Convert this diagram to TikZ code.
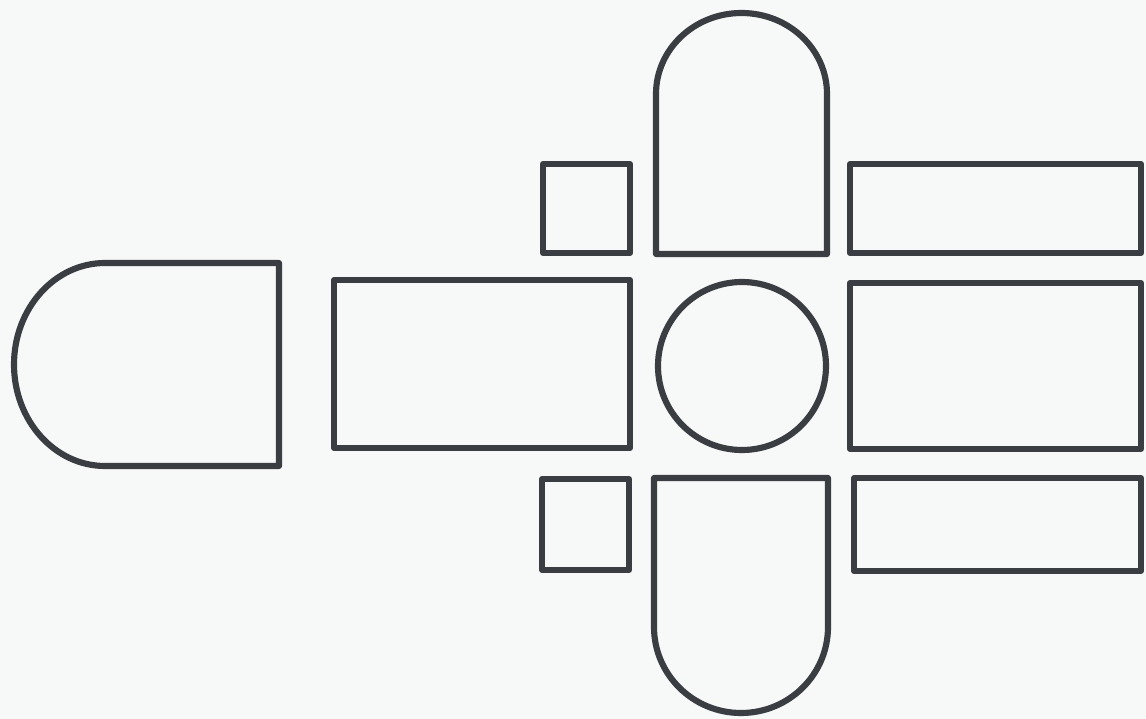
\documentclass[tikz,border=0pt]{standalone}
\definecolor{ink}{RGB}{58,62,66}
\definecolor{paper}{RGB}{247,248,248}
\begin{document}
\begin{tikzpicture}[x=0.02cm,y=-0.02cm,
  outline/.style={draw=ink,line width=3.5pt,line join=round}]
\fill[paper] (0,0) rectangle (1146,719);
\useasboundingbox (0,0) rectangle (1146,719);
% left D shape
\draw[outline] (279,263) -- (279,466) -- (105,466)
  arc[start angle=90,end angle=270,x radius=91,y radius=101.5] -- cycle;
% middle left rectangle
\draw[outline] (334,280) rectangle (630,448);
% small squares
\draw[outline] (543,164) rectangle (630,253);
\draw[outline] (542,479) rectangle (629,570);
% top arch
\draw[outline] (656,254) -- (656,94)
  arc[start angle=180,end angle=360,x radius=85.5,y radius=81] -- (827,254) -- cycle;
% bottom arch
\draw[outline] (654,478) -- (654,627)
  arc[start angle=180,end angle=0,x radius=87,y radius=86] -- (828,478) -- cycle;
% central circle
\draw[outline] (742,366) circle[radius=84];
% right rectangles
\draw[outline] (850,164) rectangle (1141,253);
\draw[outline] (850,283) rectangle (1141,449);
\draw[outline] (854,478) rectangle (1141,571);
\end{tikzpicture}
\end{document}
